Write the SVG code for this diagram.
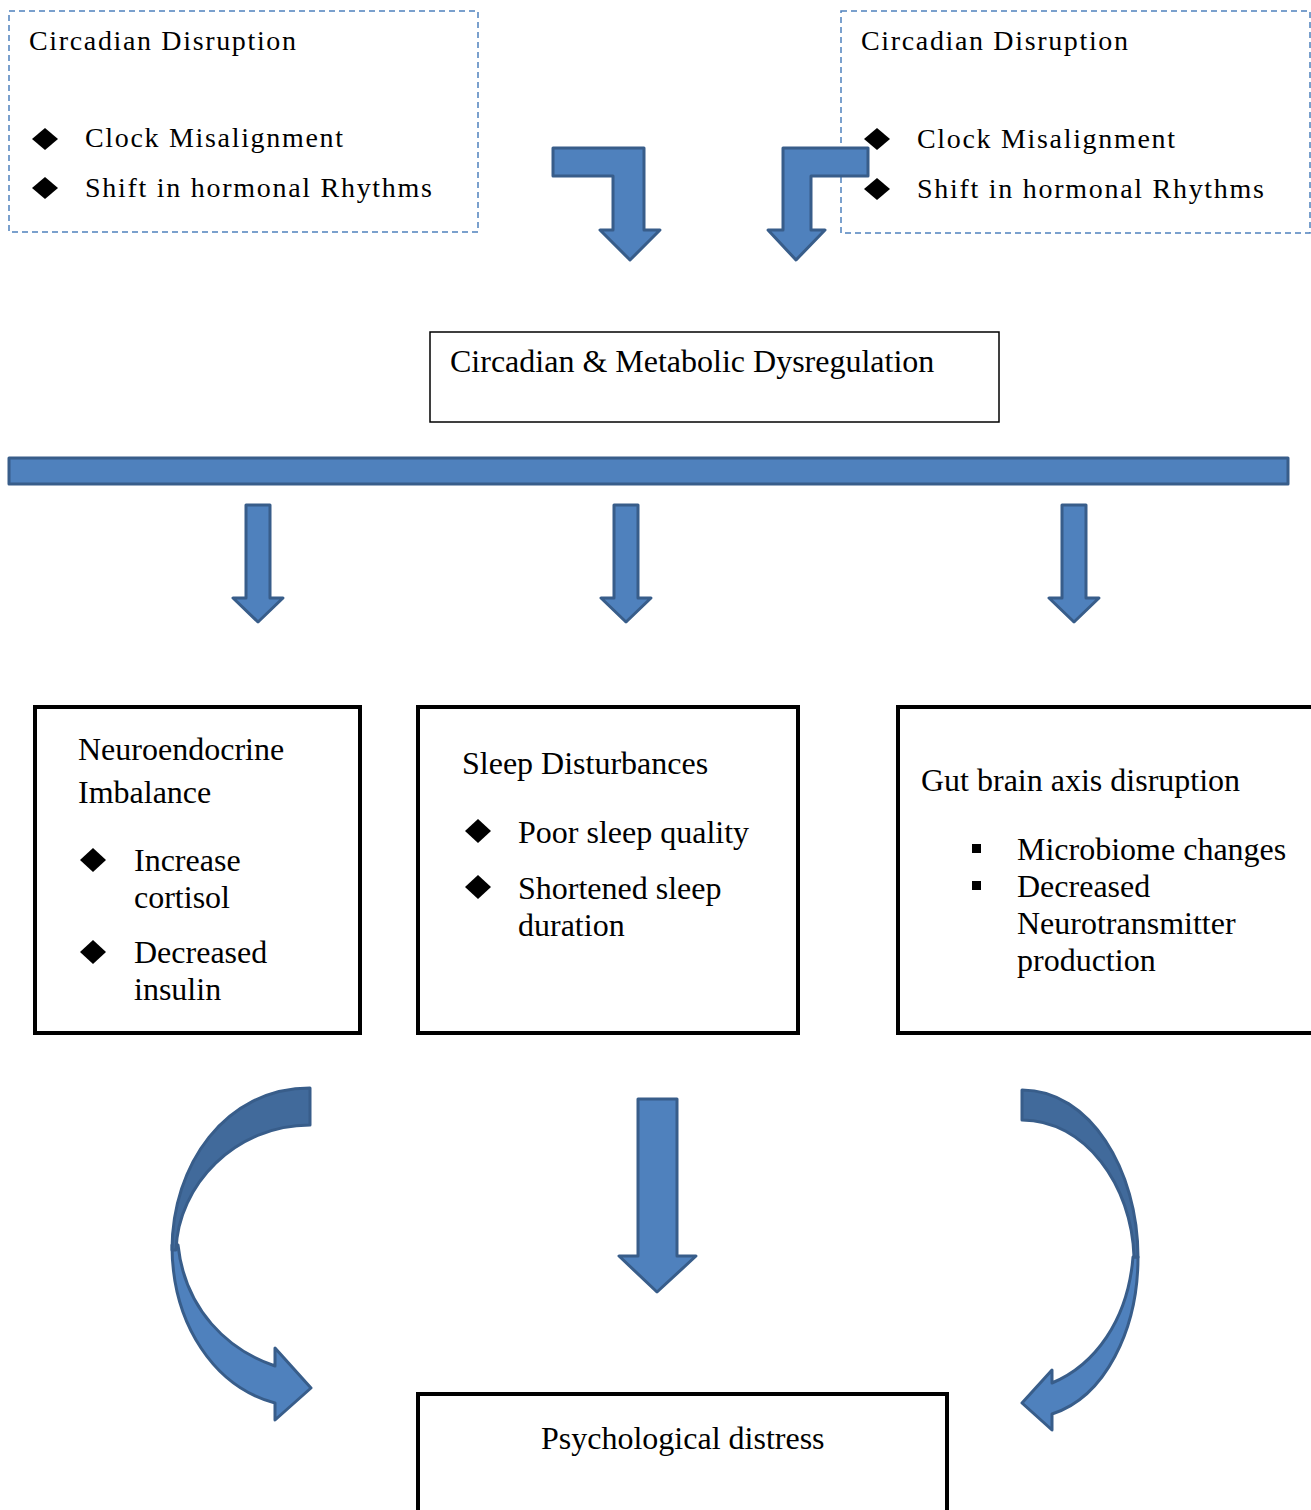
<svg xmlns="http://www.w3.org/2000/svg" width="1311" height="1510" viewBox="0 0 1311 1510">
<style>
.bg{fill:#ffffff}
.dash{fill:none;stroke:#4f81bd;stroke-width:1.5;stroke-dasharray:6,4}
.box{fill:#ffffff;stroke:#000000;stroke-width:4}
.thin{fill:#ffffff;stroke:#000000;stroke-width:1.5}
.arr{fill:#4f81bd;stroke:#385d8a;stroke-width:3;stroke-linejoin:round}
.arrd{fill:#416a9b;stroke:#385d8a;stroke-width:3;stroke-linejoin:round}
.t{font-family:"Liberation Serif","Times New Roman",serif;fill:#000000}
.ts{font-size:28px}
.tm{font-size:32px}
.dia{fill:#000000}
</style>
<rect class="bg" x="0" y="0" width="1311" height="1510"/>

<g id="node-circadian-left">
  <rect class="dash" x="9" y="11" width="469" height="221"/>
  <text class="t ts" x="29" y="50" textLength="267" lengthAdjust="spacing">Circadian Disruption</text>
  <polygon class="dia" points="32,139 45,128 58,139 45,150"/>
  <text class="t ts" x="85" y="147" textLength="258" lengthAdjust="spacing">Clock Misalignment</text>
  <polygon class="dia" points="32,188 45,177 58,188 45,199"/>
  <text class="t ts" x="85" y="197" textLength="347" lengthAdjust="spacing">Shift in hormonal Rhythms</text>
</g>

<g id="node-circadian-right">
  <rect class="dash" x="841" y="11" width="469" height="222"/>
  <text class="t ts" x="861" y="50" textLength="267" lengthAdjust="spacing">Circadian Disruption</text>
  <polygon class="dia" points="864,139 877,128 890,139 877,150"/>
  <text class="t ts" x="917" y="148" textLength="258" lengthAdjust="spacing">Clock Misalignment</text>
  <polygon class="dia" points="864,189 877,178 890,189 877,200"/>
  <text class="t ts" x="917" y="198" textLength="347" lengthAdjust="spacing">Shift in hormonal Rhythms</text>
</g>

<g id="node-dysregulation">
  <rect class="thin" x="430" y="332" width="569" height="90"/>
  <text class="t tm" x="450" y="372">Circadian &amp; Metabolic Dysregulation</text>
</g>

<g id="node-neuroendocrine">
  <rect class="box" x="35" y="707" width="325" height="326"/>
  <text class="t tm" x="78" y="760">Neuroendocrine</text>
  <text class="t tm" x="78" y="803">Imbalance</text>
  <polygon class="dia" points="80,860 93,848 106,860 93,872"/>
  <text class="t tm" x="134" y="871">Increase</text>
  <text class="t tm" x="134" y="908">cortisol</text>
  <polygon class="dia" points="80,952 93,940 106,952 93,964"/>
  <text class="t tm" x="134" y="963">Decreased</text>
  <text class="t tm" x="134" y="1000">insulin</text>
</g>

<g id="node-sleep">
  <rect class="box" x="418" y="707" width="380" height="326"/>
  <text class="t tm" x="462" y="774">Sleep Disturbances</text>
  <polygon class="dia" points="465,831 478,819 491,831 478,843"/>
  <text class="t tm" x="518" y="843">Poor sleep quality</text>
  <polygon class="dia" points="465,887 478,875 491,887 478,899"/>
  <text class="t tm" x="518" y="899">Shortened sleep</text>
  <text class="t tm" x="518" y="936">duration</text>
</g>

<g id="node-gut">
  <rect class="box" x="898" y="707" width="420" height="326"/>
  <text class="t tm" x="921" y="791">Gut brain axis disruption</text>
  <rect class="dia" x="972" y="844" width="9" height="9"/>
  <text class="t tm" x="1017" y="860">Microbiome changes</text>
  <rect class="dia" x="972" y="881" width="9" height="9"/>
  <text class="t tm" x="1017" y="897">Decreased</text>
  <text class="t tm" x="1017" y="934">Neurotransmitter</text>
  <text class="t tm" x="1017" y="971">production</text>
</g>

<g id="node-psych">
  <rect class="box" x="418" y="1394" width="529" height="130"/>
  <text class="t tm" x="541" y="1449">Psychological distress</text>
</g>

<g id="connectors">
  <polygon class="arr" points="553,148 644,148 644,230 660,230 630,260 600,230 613,230 613,176 553,176"/>
  <polygon class="arr" points="868,148 783,148 783,230 768,230 796,260 825,230 811,230 811,176 868,176"/>
  <rect class="arr" x="9" y="458" width="1279" height="26"/>
  <polygon class="arr" points="246,505 270,505 270,598 283,598 258,622 233,598 246,598"/>
  <polygon class="arr" points="614,505 638,505 638,598 651,598 626,622 601,598 614,598"/>
  <polygon class="arr" points="1062,505 1086,505 1086,598 1099,598 1074,622 1049,598 1062,598"/>
  <polygon class="arr" points="638,1099 677,1099 677,1256 696,1256 657,1292 619,1256 638,1256"/>
  <path class="arr" d="M172,1245 C172,1325 215,1387 275,1403 L275,1420 L311,1388 L275,1348 L275,1366 C228,1350 185,1310 178,1245 Z"/>
  <path class="arrd" d="M310,1088 L310,1125 C235,1125 178,1185 176,1250 L172,1250 C172,1165 225,1088 310,1088 Z"/>
  <path class="arr" d="M1138,1257 C1138,1330 1105,1397 1052,1414 L1052,1430 L1022,1403 L1052,1370 L1052,1383 C1095,1365 1128,1320 1133,1257 Z"/>
  <path class="arrd" d="M1022,1090 C1090,1090 1138,1170 1138,1257 L1134,1257 C1132,1185 1085,1120 1022,1120 Z"/>
</g>
</svg>
